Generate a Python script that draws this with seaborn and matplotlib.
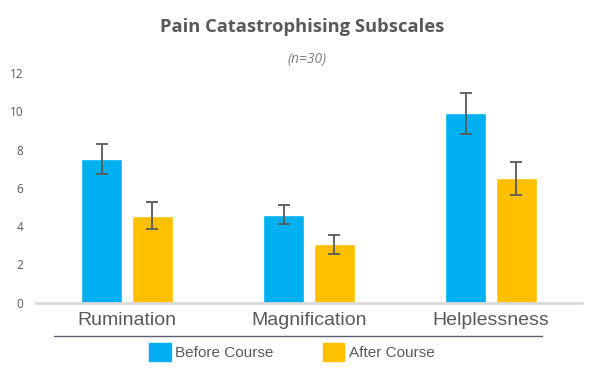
import pandas as pd
import matplotlib.pyplot as plt
from matplotlib.lines import Line2D
import seaborn as sns

# values
subscales = ["Rumination", "Magnification", "Helplessness"]
before = [7.5, 4.6, 9.9]
after = [4.55, 3.05, 6.5]
before_err = [0.78, 0.51, 1.08]
after_err = [0.72, 0.49, 0.86]
groups = ["Before Course", "After Course"]

df = pd.DataFrame({
    "Subscale": subscales * 2,
    "Score": before + after,
    "Time": [groups[0]] * 3 + [groups[1]] * 3,
})

sns.set_style("white")
plt.rcParams["font.family"] = ["Liberation Sans", "DejaVu Sans"]

fig = plt.figure(figsize=(5.92, 3.70), dpi=100)
ax = fig.add_axes([36 / 592, 0.182, 546 / 592, 0.62])

sns.barplot(data=df, x="Subscale", y="Score", hue="Time",
            palette=["#00B0F0", "#FFC000"], saturation=1, errorbar=None,
            width=0.56, gap=0.2, ax=ax)

for cont, errs in zip(ax.containers, [before_err, after_err]):
    xs = [b.get_x() + b.get_width() / 2 for b in cont]
    ys = [b.get_height() for b in cont]
    ax.errorbar(xs, ys, yerr=errs, fmt="none", ecolor="#595959",
                elinewidth=1.3, capsize=4, capthick=1.3)

ax.set_ylim(0, 12)
ax.set_xlim(-0.5, 2.5)
ax.set_yticks(range(0, 13, 2))
ax.set_xlabel("")
ax.set_ylabel("")
sns.despine(ax=ax, left=True)
ax.spines["bottom"].set_color("#D9D9D9")
ax.spines["bottom"].set_linewidth(2)
ax.tick_params(axis="y", length=0, pad=9, labelsize=8.5, labelcolor="#595959")
for lbl in ax.get_yticklabels():
    lbl.set_family("Open Sans")
ax.tick_params(axis="x", length=0, pad=7, labelsize=14, labelcolor="#595959")

ax.get_legend().remove()
handles = [plt.Rectangle((0, 0), 1, 1, color=c) for c in ["#00B0F0", "#FFC000"]]
fig.legend(handles, groups, loc="center", bbox_to_anchor=(0.493, 0.049),
           ncol=2, frameon=False, fontsize=11, handlelength=1.4, handleheight=1.4,
           handletextpad=0.3, columnspacing=3.2, labelcolor="#595959")

fig.add_artist(Line2D([54 / 592, 542 / 592], [0.092, 0.092], color="#5B5F70", lw=1))

fig.text(0.51, 1 - 27 / 370, "Pain Catastrophising Subscales", ha="center", va="center",
         fontsize=13.2, fontweight="bold", color="#595959", family="Open Sans")
fig.text(0.518, 1 - 60 / 370, "(n=30)", ha="center", va="center",
         fontsize=10, style="italic", color="#7F7F7F", family="Open Sans")

fig.savefig("out.png", dpi=100)
